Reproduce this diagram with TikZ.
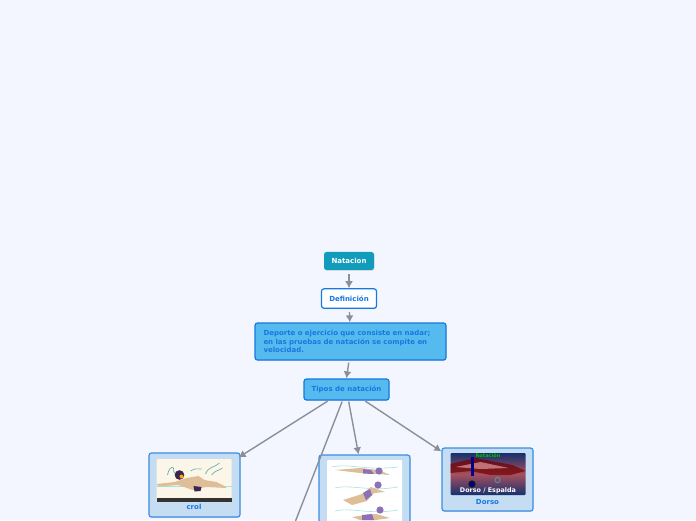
\documentclass[tikz,border=0pt]{standalone}
\usepackage{fontspec}
\setmainfont{DejaVu Sans}
\usetikzlibrary{arrows.meta,positioning,shadows}
\definecolor{pagebg}{HTML}{F3F6FF}
\definecolor{rootfill}{HTML}{129CBB}
\definecolor{edgeblue}{HTML}{1778E0}
\definecolor{skyfill}{HTML}{55BBEE}
\definecolor{imgfill}{HTML}{C4DDF2}
\definecolor{imgedge}{HTML}{3B8EE5}
\definecolor{linkgray}{HTML}{8A909A}
\definecolor{skin}{HTML}{DDBE98}
\definecolor{capviolet}{HTML}{8E70B8}
\definecolor{waterline}{HTML}{A5E3E3}
\definecolor{creamfill}{HTML}{FBF6E8}
\definecolor{trunkdark}{HTML}{3A2450}
\definecolor{deepblue}{HTML}{16306E}
\definecolor{rosered}{HTML}{A8505E}
\tikzstyle{base} = [shape=rectangle, rounded corners=2.5pt, anchor=center,
		align=center, font=\bfseries\fontsize{7}{8.6}\selectfont,
		inner sep=0pt,
		drop shadow={shadow xshift=0.4pt,shadow yshift=-0.8pt,opacity=.25}]
\tikzstyle{root} = [base, fill=rootfill, text=white, minimum width=50pt, minimum height=18pt]
\tikzstyle{whitebox} = [base, draw=edgeblue, line width=1.2pt, fill=white, text=edgeblue,
		minimum width=55pt, minimum height=19.5pt]
\tikzstyle{skybox} = [base, draw=edgeblue, line width=1.2pt, fill=skyfill, text=edgeblue]
\tikzstyle{imgbox} = [base, draw=imgedge, line width=1.2pt, fill=imgfill,
		minimum width=91pt]
\tikzstyle{caption} = [font=\bfseries\fontsize{7}{8}\selectfont, text=edgeblue, inner sep=0pt]
\tikzstyle{link} = [draw=linkgray, line width=1.4pt, -{Latex[length=7pt,width=8pt]}]
\begin{document}
\begin{tikzpicture}[x=1pt,y=1pt]
	\useasboundingbox (0,0) rectangle (696,520);
	\clip (0,0) rectangle (696,520);
	\fill[pagebg] (0,0) rectangle (696,520);

	\node[root] (natacion) at (349,259) {Natacion};
	\node[whitebox, below=18pt of natacion] (definicion) {Definición};
	\node[skybox, minimum width=191pt, minimum height=37pt,
		text width=174pt, align=left] (deporte) at (350.5,178.5)
		{Deporte o ejercicio que consiste en nadar;\\en las pruebas de natación se compite en\\velocidad.};
	\node[skybox, minimum width=85pt, minimum height=21pt] (tipos) at (346.5,130.5) {Tipos de natación};

	\node[imgbox, minimum height=64pt] (crol) at (194.5,35) {};
	\node[imgbox, minimum height=80pt] (braza) at (364.5,25) {};
	\node[imgbox, minimum height=63pt] (dorso) at (487.5,40.5) {};
	\node[caption] (crollabel) at (194,13) {crol};
	\node[caption] (dorsolabel) at (487.5,18.5) {Dorso};
	\coordinate (offpage) at (292,-10);

	% crol
	\begin{scope}[shift={(156.5,18)}]
		\fill[rounded corners=1pt, fill=creamfill] (0,0) rectangle (75,43);
		\fill[black!80] (0,0) rectangle (75,4);
		\draw[waterline, line width=.9pt] (0,16) -- (75,16);
		\draw[teal!60!white, line width=.7pt] (11,27) .. controls (12,33) and (15,36) .. (17,34) .. controls (16,31) and (18,30) .. (19,28);
		\draw[teal!60!white, line width=.7pt] (34,31) .. controls (38,34) and (42,33) .. (45,33);
		\draw[teal!60!white, line width=.7pt] (49,28) .. controls (52,36) and (58,34) .. (63,39);
		\draw[teal!60!white, line width=.7pt] (55,27) .. controls (59,32) and (62,31) .. (66,34);
		\fill[skin] (0,18) -- (18,20) -- (30,24) -- (42,26) -- (48,22) -- (60,20) -- (68,16) -- (70,14)
			-- (50,15) -- (43,14) -- (36,12) -- (22,17) -- (2,15.5) -- cycle;
		\fill[trunkdark] (37,16) -- (45,15) -- (44,11) -- (38,10.5) -- cycle;
		\fill[trunkdark] (23,27) circle (4.8);
		\fill[orange!70!yellow] (25,25.5) circle (2);
	\end{scope}

	% braza
	\begin{scope}
		\fill[rounded corners=1pt, white] (327,-2) rectangle (402,60);
		\draw[waterline, line width=.6pt] (332,53) .. controls (350,57) and (365,49) .. (398,53);
		\fill[skin] (335,50) -- (360,52) -- (379,50) -- (390,45) -- (378,46) -- (360,47) -- cycle;
		\fill[capviolet] (363,51) -- (371,50) -- (374,46) -- (363,46.5) -- cycle;
		\fill[capviolet] (379,49) circle (3.6);
		\draw[waterline, line width=.6pt] (335,32) .. controls (350,36) and (370,28) .. (398,33);
		\fill[skin] (343,20) -- (362,26) -- (371,33) -- (385,28) -- (374,27) -- (367,19) -- (352,15) -- cycle;
		\fill[capviolet] (363,27) -- (370,31) -- (372,25) -- (366,20) -- cycle;
		\fill[capviolet] (378,35) circle (3.6);
		\draw[waterline, line width=.6pt] (335,9) .. controls (350,13) and (370,5) .. (398,10);
		\fill[skin] (352,3) -- (366,5) -- (376,6) -- (390,2) -- (376,0) -- (360,0) -- cycle;
		\fill[capviolet] (362,5) -- (372,6) -- (374,0) -- (362,0) -- cycle;
		\fill[capviolet] (380,10) circle (3.6);
	\end{scope}

	% dorso
	\begin{scope}[shift={(450.5,25)}]
		\shade[rounded corners=1pt, top color=deepblue, bottom color=deepblue, middle color=rosered] (0,0) rectangle (75,42);
		\fill[red!45!black, opacity=.7] (0,31) -- (25,37) -- (62,30) -- (75,24) -- (60,20) -- (40,20) -- (20,24) -- (0,22) -- cycle;
		\fill[red!25!white, opacity=.55] (5,28) -- (30,33) -- (58,27) -- (30,26) -- cycle;
		\fill[blue!55!black] (20,38) rectangle (23.5,19);
		\draw[black!90, fill=blue!50!black, line width=.8pt] (21.5,11) circle (3.2);
		\draw[teal!70!white, line width=.7pt] (47,15) circle (2.6);
	\end{scope}
	\node[font=\bfseries\fontsize{5}{6}\selectfont, text=green!75!black, inner sep=0pt] (rotacion) at (488,64) {Rotación};
	\node[font=\bfseries\fontsize{6.4}{7}\selectfont, text=white, inner sep=0pt] (espalda) at (488,29) {Dorso / Espalda};

	\draw [link, shorten <=4pt] (natacion) -- (definicion);
	\draw [link, shorten <=3pt] (definicion) -- (deporte);
	\draw [link, shorten <=2pt] ([xshift=-1.5pt]deporte.south) -- (tipos.north);
	\draw [link, shorten <=1pt] ([xshift=-18pt]tipos.south) -- ([xshift=-2pt,yshift=-5pt]crol.north east);
	\draw [link, shorten <=1pt] ([xshift=-4pt]tipos.south) -- (offpage);
	\draw [link, shorten <=1pt] ([xshift=2pt]tipos.south) -- ([xshift=-6pt]braza.north);
	\draw [link, shorten <=1pt] ([xshift=18pt]tipos.south) -- ([yshift=-4pt]dorso.north west);
\end{tikzpicture}
\end{document}
